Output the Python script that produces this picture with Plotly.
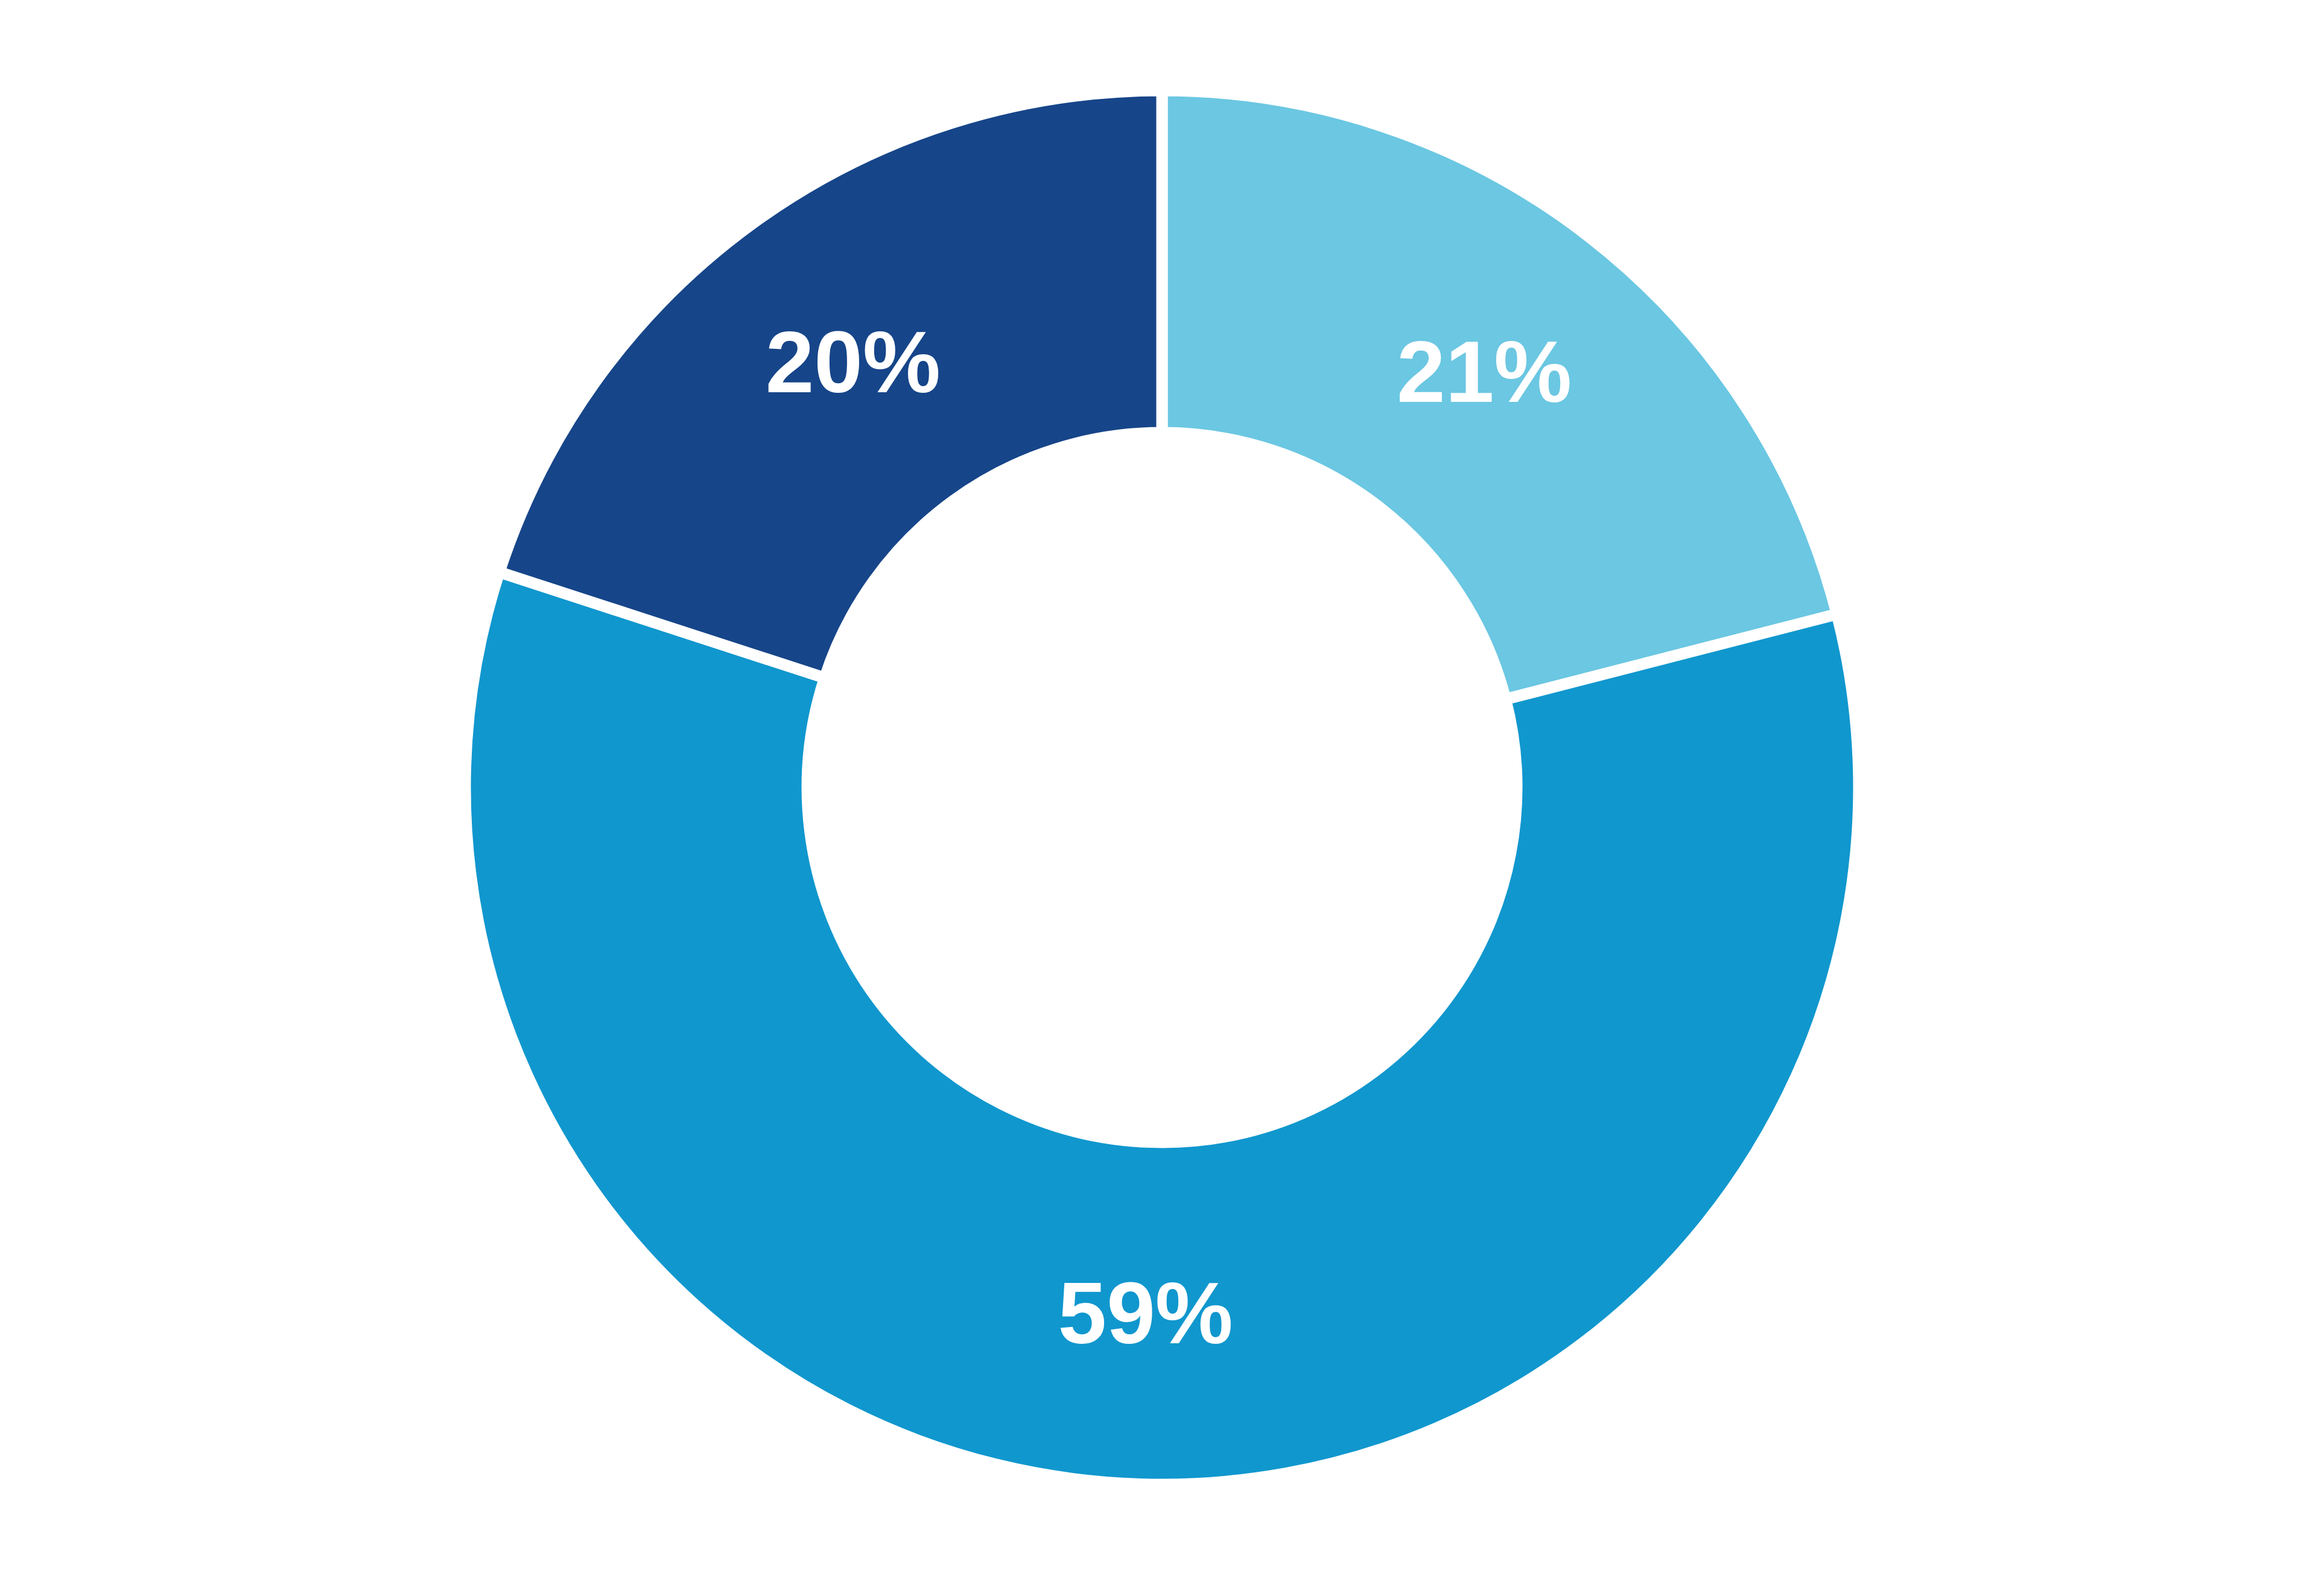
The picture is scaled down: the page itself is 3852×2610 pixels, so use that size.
import plotly.graph_objects as go

categories = ["Segment A", "Segment B", "Segment C"]
values = [21, 59, 20]
labels_text = ["21%", "59%", "20%"]
colors = ["#6BC7E2", "#1097CE", "#164589"]

n = len(values)
label_font = dict(
    family=["Arial, Liberation Sans, Helvetica, sans-serif"] * n,
    size=[145] * n,
    color=["white"] * n,
    weight=["bold"] * n,
)

fig = go.Figure(go.Pie(
    labels=categories,
    values=values,
    text=labels_text,
    texttemplate="%{text}",
    hole=0.509,
    sort=False,
    direction="clockwise",
    rotation=0,
    marker=dict(colors=colors, line=dict(color="white", width=19)),
    textfont=label_font,
    insidetextfont=label_font,
    insidetextorientation="horizontal",
    textposition="inside",
    showlegend=False,
))

fig.update_layout(
    template="none",
    width=3852, height=2610,
    margin=dict(l=0, r=16, t=142, b=158, pad=0),
    font=dict(family="Arial, Liberation Sans, Helvetica, sans-serif"),
    paper_bgcolor="white",
    plot_bgcolor="white",
    showlegend=False,
)

fig.write_html("out.html")
